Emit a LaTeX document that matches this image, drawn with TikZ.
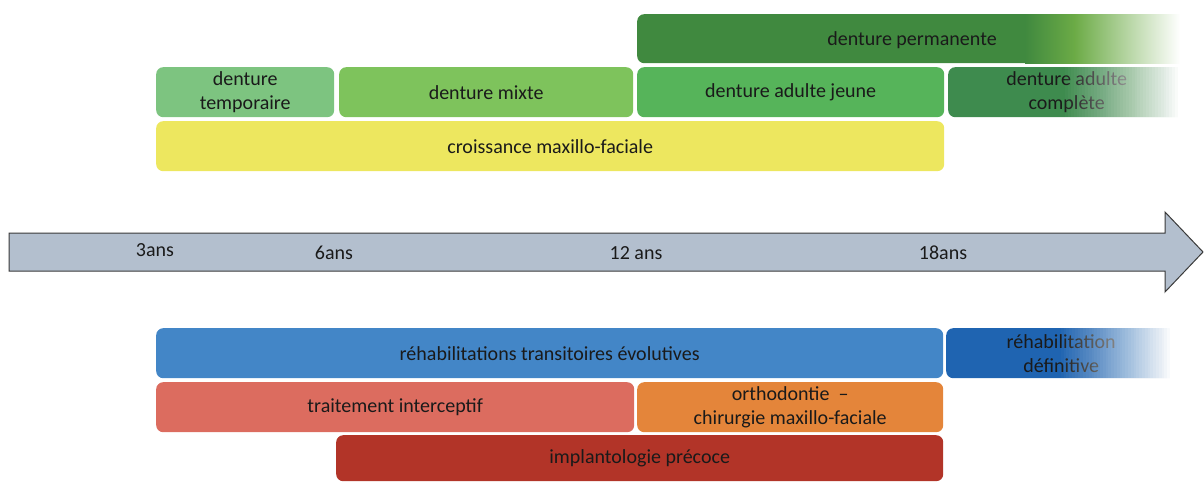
\documentclass[tikz,border=0pt]{standalone}
\usepackage{fontspec}
\setmainfont{Carlito}
\definecolor{dperm}{HTML}{40893F}
\definecolor{dpermlt}{HTML}{6CAB46}
\definecolor{dtemp}{HTML}{7DC480}
\definecolor{dmixte}{HTML}{7EC35C}
\definecolor{djeune}{HTML}{56B45A}
\definecolor{dcompl}{HTML}{3E8B4E}
\definecolor{croiss}{HTML}{EDE75F}
\definecolor{axefill}{HTML}{B3BFCE}
\definecolor{axedraw}{HTML}{3A3A3A}
\definecolor{rehtrans}{HTML}{4386C7}
\definecolor{rehdef}{HTML}{1F64B1}
\definecolor{interc}{HTML}{DC6C5F}
\definecolor{ortho}{HTML}{E4853A}
\definecolor{implant}{HTML}{B23428}
\definecolor{txt}{HTML}{1A1A1A}
\tikzset{
  bar/.style={rounded corners=7pt, text=txt, align=center, inner sep=0pt,
    font=\fontsize{20}{24}\selectfont, anchor=north west},
  age/.style={text=txt, font=\fontsize{20}{24}\selectfont, inner sep=0pt}
}
\begin{document}
\begin{tikzpicture}[x=1pt,y=-1pt]
		\useasboundingbox (0,0) rectangle (1204,482);
		% dentures
		\node[bar, fill=dperm, minimum width=548pt, minimum height=49pt] (perm) at (637,14) {};
		\shade[left color=dperm, right color=dpermlt] (1025,14) rectangle (1075,63);
		\shade[left color=dpermlt, right color=white] (1074.5,14) rectangle (1180,63);
		\fill[white] (1180,12) rectangle (1204,65);
		\node[age] (permtxt) at (912,40) {denture permanente};
		\node[bar, fill=dtemp, minimum width=178pt, minimum height=50pt] (temp) at (156,67) {denture\\temporaire};
		\node[bar, fill=dmixte, minimum width=294pt, minimum height=50pt] (mixte) at (339,67) {denture mixte};
		\node[bar, fill=djeune, minimum width=307pt, minimum height=50pt] (jeune) at (637,67) {denture adulte jeune};
		\node[bar, fill=dcompl, minimum width=237pt, minimum height=50pt] (compl) at (948,67) {denture adulte\\complète};
		\foreach \i in {1,...,40}
			\fill[white, opacity={1/(41-\i)}] (1062+\i*2.9,65) rectangle (1204,119);
		\node[bar, fill=croiss, minimum width=788pt, minimum height=50pt] (croiss) at (156,121) {croissance maxillo-faciale};
		% axe des ages
		\draw[axedraw, fill=axefill, line width=1pt] (9,233) -- (1165,233) -- (1165,212) -- (1203,252)
			-- (1165,292) -- (1165,271) -- (9,271) -- cycle;
		\node[age] (a3) at (155,250) {3ans};
		\node[age] (a6) at (334,253) {6ans};
		\node[age] (a12) at (636,253) {12 ans};
		\node[age] (a18) at (943,253) {18ans};
		% traitements
		\node[bar, fill=rehtrans, minimum width=787pt, minimum height=50pt] (trans) at (156,328) {réhabilitations transitoires évolutives};
		\node[bar, fill=rehdef, minimum width=230pt, minimum height=50pt] (def) at (946,328) {réhabilitation\\définitive};
		\foreach \i in {1,...,40}
			\fill[white, opacity={1/(41-\i)}] (1058+\i*2.8,326) rectangle (1204,380);
		\node[bar, fill=interc, minimum width=478pt, minimum height=50pt] (interc) at (156,382) {traitement interceptif};
		\node[bar, fill=ortho, minimum width=306pt, minimum height=50pt] (ortho) at (637,382) {orthodontie \ --\\chirurgie maxillo-faciale};
		\node[bar, fill=implant, minimum width=607pt, minimum height=46pt] (implant) at (336,435) {implantologie précoce};
	\end{tikzpicture}
\end{document}
